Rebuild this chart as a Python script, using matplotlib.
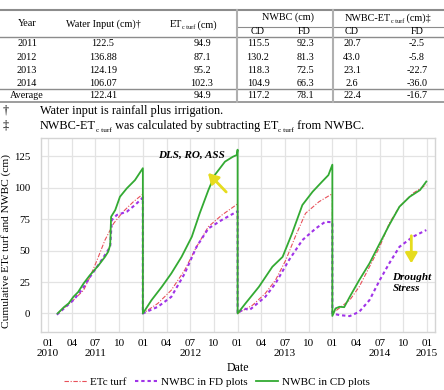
import matplotlib
matplotlib.use('Agg')
from matplotlib import pyplot as plt
from matplotlib.lines import Line2D
from matplotlib import transforms

plt.rcParams['font.family'] = ['Liberation Serif', 'DejaVu Serif']

# table data
years = ['2011', '2012', '2013', '2014', 'Average']
water_input = ['122.5', '136.88', '124.19', '106.07', '122.41']
etc_turf = ['94.9', '87.1', '95.2', '102.3', '94.9']
nwbc_cd = ['115.5', '130.2', '118.3', '104.9', '117.2']
nwbc_fd = ['92.3', '81.3', '72.5', '66.3', '78.1']
diff_cd = ['20.7', '43.0', '23.1', '2.6', '22.4']
diff_fd = ['-2.5', '-5.8', '-22.7', '-36.0', '-16.7']

# curves: months since Jan 2011, cumulative cm
etc_m = [1.2, 3.2, 4.5, 5.3, 6.2, 7.2, 8.3, 9.5, 10.8, 12.0,
         12.0, 13.9, 15.6, 17.3, 18.8, 20.3, 22.0, 24.0,
         24.0, 25.9, 27.5, 28.8, 30.1, 31.3, 32.6, 34.3, 36.0,
         36.0, 38.2, 39.4, 40.7, 42.0, 43.2, 44.5, 46.2, 47.9]
etc_v = [0, 10.6, 18.5, 29, 42.4, 58.3, 71.6, 80.9, 88.8, 94.9,
         0, 8, 18.5, 34.5, 53, 69, 78.2, 87.1,
         0, 6.6, 15.9, 26.5, 42.4, 61, 79.6, 88.8, 95.2,
         0, 10.6, 21.2, 37.1, 53, 71.6, 84.9, 95.5, 102.3]

fd_m = [1.1, 2.2, 3.2, 4.3, 5.3, 6.3, 7.2, 7.86, 8.07, 8.7, 9.97, 11.0, 11.9, 12.0,
        12.0, 13.9, 15.6, 17.3, 18.8, 20.3, 22.0, 24.0,
        24.0, 24.8, 25.5, 27.5, 28.8, 30.5, 32.2, 33.9, 35.1, 36.0,
        36.0, 36.9, 38.2, 39.4, 40.7, 42.0, 43.2, 44.5, 46.2, 47.9]
fd_v = [-1, 5, 10.6, 19, 29, 38, 46.5, 53, 74.3, 78.3, 80.9, 86.2, 91.5, 92.3,
        0, 5.3, 13.2, 31.8, 53, 67.6, 74.3, 81.3,
        0, 4, 2.7, 13.2, 23.9, 42.4, 58.3, 67.6, 72.9, 72.5,
        0, -1.3, -2.1, 1.3, 10.6, 26.5, 39.8, 53, 61, 66.3]

cd_m = [1.2, 2.0, 2.6, 3.2, 3.8, 4.5, 5.3, 5.8, 6.4, 7.2, 7.6, 7.86, 7.98, 8.5, 9.1, 9.97, 11.0, 12.0,
        12.0, 13.1, 14.4, 15.6, 16.9, 18.2, 19.2, 20.3, 21.1, 22.4, 23.4, 23.9, 24.0,
        24.0, 25.0, 26.7, 28.4, 29.7, 30.9, 32.2, 33.5, 34.7, 35.5, 36.0,
        36.0, 36.4, 36.9, 37.5, 38.2, 39.4, 40.7, 42.0, 43.2, 44.5, 45.8, 47.1, 47.9]
cd_v = [0, 5, 8, 13.2, 17, 23.9, 30.5, 34, 38.4, 45, 49, 54.4, 76.9, 82.2, 92.8, 99.5, 106, 115.5,
        0, 10.6, 21.2, 31.8, 45, 61, 79.6, 98.1, 110, 120.7, 124.6, 126, 130.2,
        0, 8, 21.2, 37.1, 45, 63.7, 86.2, 96.8, 104.8, 110, 118.3,
        -2, 4, 5.3, 5, 13.2, 26.5, 39.8, 55.7, 70.3, 84.9, 92.8, 98.1, 104.9]

month_ticks = list(range(0, 49, 3))
month_labels = ['01', '04', '07', '10'] * 4 + ['01']
year_pos = [0, 6, 18, 30, 42, 48]
year_labels = ['2010', '2011', '2012', '2013', '2014', '2015']

W, H = 444, 390
fig = plt.figure(figsize=(W / 100, H / 100), dpi=100)
renderer = fig.canvas.get_renderer()


def fx(x):
    return x / W


def fy(y):
    return 1 - y / H


def hline(y, x0, x1, lw=1.2, c='#8c8c8c'):
    fig.add_artist(Line2D([fx(x0), fx(x1)], [fy(y), fy(y)], lw=lw, color=c))


def vline(x, y0, y1, lw=1.5, c='#b0b0b0'):
    fig.add_artist(Line2D([fx(x), fx(x)], [fy(y0), fy(y1)], lw=lw, color=c))


def ftext(x, y, s, size=7.3, ha='center', **kw):
    fig.text(fx(x), fy(y), s, ha=ha, va='center', fontsize=size, **kw)


def rich(x, base, parts, size, ha='left'):
    # parts: (text, is_subscript); base is the baseline in pixels
    items = []
    total = 0
    for s, sub in parts:
        t = fig.text(0, 0, s, fontsize=size * 0.6 if sub else size, va='baseline', ha='left')
        w = t.get_window_extent(renderer).width
        items.append((t, w, sub))
        total += w
    x0 = x - total / 2 if ha == 'center' else x
    em = size * 100 / 72
    for t, w, sub in items:
        t.set_position((fx(x0), fy(base + (0.2 * em if sub else 0))))
        x0 += w


# table
hline(9.5, 0, 444, lw=1.5)
hline(26.7, 237, 444, lw=0.8)
hline(36.5, 0, 444, lw=1.0)
hline(88.7, 0, 444, lw=1.0)
hline(102, 0, 444, lw=1.2)
vline(237, 9.5, 102)
vline(333, 9.5, 102)

ftext(27, 24, 'Year')
ftext(103, 24, 'Water Input (cm)\u2020')
rich(193, 27.3, [('ET', False), ('c turf', True), (' (cm)', False)], 7.3, ha='center')
ftext(288, 17.5, 'NWBC (cm)')
rich(388, 20.8, [('NWBC-ET', False), ('c turf', True), (' (cm)\u2021', False)], 7.3, ha='center')
for x, s in zip([258, 304, 352, 417], ['CD', 'FD', 'CD', 'FD']):
    ftext(x, 31.5, s)

row_y = [43.3, 57.2, 70.6, 83.4, 95.2]
cols = [(27, years), (103, water_input), (202, etc_turf), (258, nwbc_cd),
        (305, nwbc_fd), (352, diff_cd), (417, diff_fd)]
for x, vals in cols:
    for y, s in zip(row_y, vals):
        ftext(x, y, s)

ftext(3, 110.7, '\u2020', size=8.8, ha='left')
ftext(40, 110.7, 'Water input is rainfall plus irrigation.', size=8.8, ha='left')
ftext(3, 126, '\u2021', size=8.8, ha='left')
rich(40, 129.2, [('NWBC-ET', False), ('c turf', True), (' was calculated by subtracting ET', False),
                 ('c turf', True), (' from NWBC.', False)], 8.8)

# chart
ax = fig.add_axes([fx(41), fy(331.7), fx(435) - fx(41), (331.7 - 138) / H])
l1, = ax.plot(etc_m, etc_v, color='#e8505a', lw=0.8, dashes=(4, 1.5, 1, 1.5), label='ETc turf')
l2, = ax.plot(fd_m, fd_v, color='#a033e8', lw=1.5, dashes=(1.6, 1.4), label='NWBC in FD plots')
l3, = ax.plot(cd_m, cd_v, color='#33aa33', lw=1.3, label='NWBC in CD plots')

ax.set_xlim(-0.9, 49.0)
ax.set_ylim(-14.5, 139.5)
ax.set_yticks([0, 25, 50, 75, 100, 125])
ax.set_xticks(month_ticks)
ax.set_xticklabels(month_labels)
ax.tick_params(axis='both', length=0, labelsize=8, colors='black')
ax.tick_params(axis='x', pad=5)
ax.tick_params(axis='y', pad=8, labelsize=7.8)
ax.grid(True, color='#e3e3e3', lw=0.9)
ax.set_axisbelow(True)
for sp in ax.spines.values():
    sp.set_color('#d4d4d4')
    sp.set_linewidth(1.0)

trans = transforms.blended_transform_factory(ax.transData, ax.transAxes)
for x, s in zip(year_pos, year_labels):
    ax.text(x, -0.112, s, transform=trans, ha='center', va='center', fontsize=8)

ax.set_xlabel('Date', fontsize=8.5, labelpad=10)
ax.set_ylabel('Cumulative ETc turf and NWBC (cm)', fontsize=8.2)
ax.yaxis.set_label_coords(-0.077, 0.47)

ax.text(18.1, 125.5, 'DLS, RO, ASS', fontsize=8, fontweight='bold', style='italic', ha='center', va='center')
ax.annotate('', xy=(20.0, 113.3), xytext=(22.8, 95),
            arrowprops=dict(arrowstyle='-|>,head_width=0.35,head_length=0.6', color='#e6dc1e', lw=2))
ax.text(43.6, 24, 'Drought\nStress', fontsize=8, fontweight='bold', style='italic',
        ha='left', va='center', linespacing=1.3)
ax.annotate('', xy=(46.0, 37.6), xytext=(46.0, 64),
            arrowprops=dict(arrowstyle='-|>,head_width=0.35,head_length=0.6', color='#e6dc1e', lw=2))

fig.legend(handles=[l1, l2, l3], loc='center', bbox_to_anchor=(fx(217), fy(381.7)), ncol=3,
           frameon=False, fontsize=8, handlelength=2.0, handletextpad=0.3, columnspacing=0.8)

fig.savefig('out.png', dpi=100)
